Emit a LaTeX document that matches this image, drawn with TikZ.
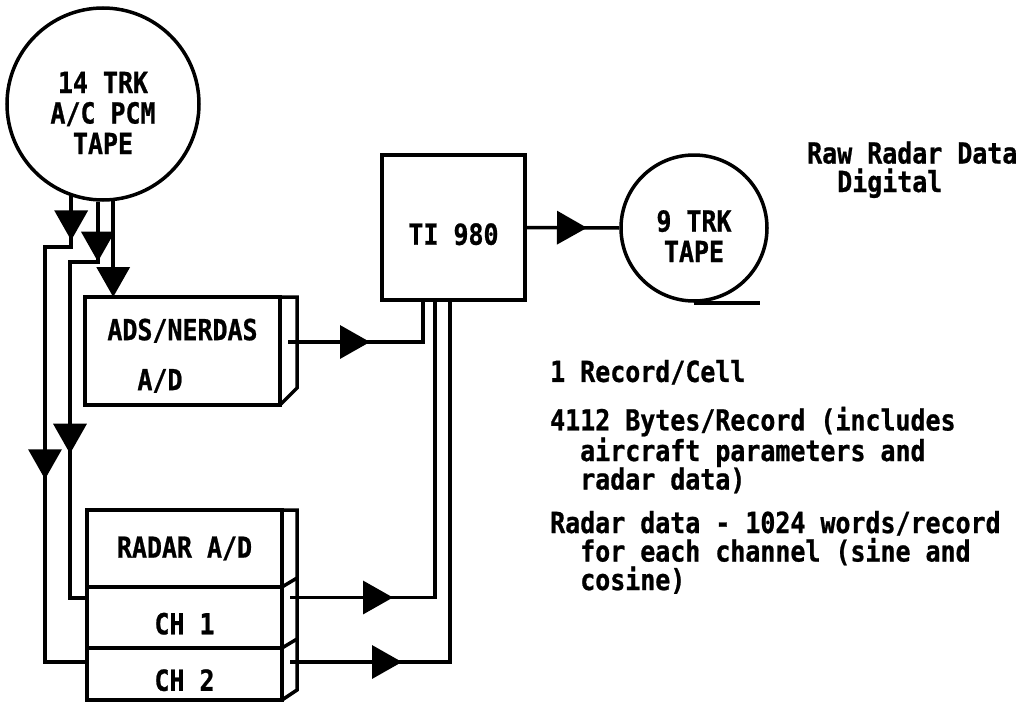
\documentclass[tikz,border=0pt]{standalone}
\usepackage{fontspec}
\usepackage{tikz}
\usetikzlibrary{arrows.meta, positioning, decorations.markings}
\newfontfamily\typew[FakeStretch=0.86, FakeBold=0.8]{DejaVu Sans Mono Bold}
\tikzset{
  txt/.style={font=\typew\fontsize{29}{28.5}\selectfont},
  blk/.style={rectangle, draw, line width=3.5pt, outer sep=0pt, inner sep=0pt, txt, align=center},
  tape/.style={circle, draw, line width=3.5pt, inner sep=0pt, txt, align=center},
  side/.style={draw, line width=3.5pt},
  arr/.style={line width=3.5pt, >={Triangle[length=30pt,width=33pt]}},
  tipat/.style={postaction={decorate, decoration={markings, mark=at position #1 with {\arrow{>}}}}},
  note/.style={txt, align=left, inner sep=0pt},
}

\begin{document}
\begin{tikzpicture}[x=1pt, y=-1pt]
  \path[use as bounding box, fill=white] (0,0) rectangle (1021,704);
  % tapes and processor
  \node[tape, minimum size=192pt, text height=100pt] (pcm) at (103,104) {14 TRK\\[2pt]A/C PCM\\[2pt]TAPE};
  \node[blk, minimum width=143pt, minimum height=145pt, text height=35pt] (ti) at (453.5,227.5) {TI 980};
  \node[tape, minimum size=146pt, text height=68pt] (trk) at (694,228) {9 TRK\\[2pt]TAPE};
  % converters
  \node[blk, minimum width=195pt, minimum height=108pt, text height=81pt, align=left] (ads) at (182.5,351)
    {ADS/NERDAS\\[21.5pt]\phantom{AD}A/D};
  \node[blk, minimum width=195pt, minimum height=77pt] (radar) at (184.5,548.5) {RADAR A/D};
  \node[blk, minimum width=195pt, minimum height=61pt, text height=34pt, below=0pt of radar] (ch1) {CH 1};
  \node[blk, minimum width=195pt, minimum height=52pt, text height=34pt, below=0pt of ch1] (ch2) {CH 2};
  \draw[side] (ads.north east) -- ++(17,0) -- ++(0,91) -- (ads.south east);
  \draw[side] (radar.north east) -- ++(15,0) -- ++(0,180) -- (ch2.south east);
  \draw[side] (ch1.north east) -- ++(15,-9);
  \draw[side] (ch2.north east) -- ++(15,-9);
  % notes
  \node[note, anchor=base west] (raw) at (807,192) {Raw Radar Data\\\phantom{Ra}Digital};
  \node[note, anchor=base west] (rec) at (550,590)
    {1 Record/Cell\\[20pt]
     4112 Bytes/Record (includes\\\phantom{xx}aircraft parameters and\\\phantom{xx}radar data)\\[15pt]
     Radar data - 1024 words/record\\\phantom{xx}for each channel (sine and\\\phantom{xx}cosine)};
  % connectors
  \coordinate (bendA) at (45,247);
  \coordinate (bendB) at (70,262);
  \draw[arr, tipat=44pt, tipat=309pt] (pcm.251) |- (bendA) |- ([yshift=12pt]ch2.west);
  \draw[arr, tipat=60pt, tipat=280pt] (pcm.267) |- (bendB) |- ([yshift=19.5pt]ch1.west);
  \draw[arr, ->] (pcm.276) -- (pcm.276 |- ads.north);
  \draw[arr, tipat=82pt] ([shift={(8pt,9pt)}]ads.east) -| ([xshift=-30.5pt]ti.south);
  \draw[arr, tipat=103pt] ([shift={(8pt,20pt)}]ch1.east) -| ([xshift=-18.5pt]ti.south);
  \draw[arr, tipat=112pt] ([shift={(8pt,12pt)}]ch2.east) -| ([xshift=-3.5pt]ti.south);
  \draw[arr, tipat=62pt] (ti.east) -- (trk.west);
  \draw[arr] (trk.south) -- ++(66,0);
\end{tikzpicture}
\end{document}
